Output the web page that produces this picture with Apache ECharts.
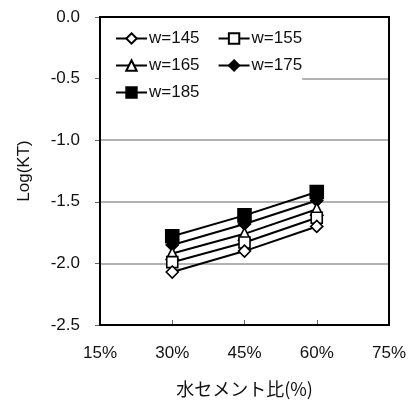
<!DOCTYPE html>
<html>
<head>
<meta charset="utf-8">
<script src="https://cdn.jsdelivr.net/npm/echarts@6/dist/echarts.min.js"></script>
<style>
  html, body { margin: 0; padding: 0; background: #fff; }
  #chart { width: 417px; height: 401px; }
</style>
</head>
<body>
<div id="chart"></div>
<script>
// Water-cement ratio (%) on the x axis
const ratios = [30, 45, 60];

// Log(KT) for each unit water content w
const w145 = [-2.07, -1.90, -1.70];
const w155 = [-1.99, -1.83, -1.63];
const w165 = [-1.92, -1.76, -1.56];
const w175 = [-1.85, -1.68, -1.49];
const w185 = [-1.78, -1.61, -1.42];

// Axis ranges
const xRange = [15, 75];
const yRange = [-2.5, 0];

const seriesNames = ['w=145', 'w=155', 'w=165', 'w=175', 'w=185'];
const seriesValues = [w145, w155, w165, w175, w185];
const symbols = ['diamond', 'rect', 'triangle', 'diamond', 'rect'];
const filled = [false, false, false, true, true];
const sizes = [12, 11, 12, 12, 13];

const font = '"Liberation Sans", Arial, sans-serif';

const chart = echarts.init(document.getElementById('chart'), null, { renderer: 'canvas' });

const series = seriesNames.map((name, i) => ({
  name: name,
  type: 'line',
  data: ratios.map((x, j) => [x, seriesValues[i][j]]),
  symbol: symbols[i],
  symbolSize: sizes[i],
  z: 2 + (seriesNames.length - i),
  lineStyle: { color: '#000', width: 2 },
  itemStyle: {
    color: filled[i] ? '#000' : '#fff',
    borderColor: '#000',
    borderWidth: 1.6
  },
  emphasis: { disabled: true },
  animation: false
}));

// Frame around the plot area, spanning the full axis ranges
series[0].markArea = {
  silent: true,
  z: 20,
  itemStyle: { color: 'rgba(0,0,0,0)', borderColor: '#000', borderWidth: 2 },
  label: { show: false },
  data: [[{ coord: [xRange[0], yRange[1]] }, { coord: [xRange[1], yRange[0]] }]]
};

// Legend laid out in two columns; only left-column entries get trailing space
const legendData = seriesNames.map((name, i) => ({
  name: name,
  textStyle: { padding: i % 2 === 0 ? [0, 8, 0, -3] : [0, 0, 0, -3] }
}));

chart.setOption({
  animation: false,
  backgroundColor: '#fff',
  grid: { left: 100, right: 28, top: 17, bottom: 76, outerBoundsMode: 'none', containLabel: false },
  legend: {
    data: legendData,
    left: 101, top: 27,
    width: 200,
    padding: [3, 0, 6, 14],
    itemWidth: 31, itemHeight: 13, itemGap: 10,
    backgroundColor: '#fff',
    textStyle: { fontFamily: font, fontSize: 17, lineHeight: 15, color: '#111' },
    selectedMode: false,
    z: 10
  },
  xAxis: {
    type: 'value',
    min: xRange[0], max: xRange[1], interval: 15,
    name: '水セメント比(%)',
    nameLocation: 'middle',
    nameGap: 55,
    nameTextStyle: { fontFamily: '"Noto Sans CJK JP", sans-serif', fontSize: 18, color: '#111' },
    axisLine: { show: true, onZero: false, lineStyle: { color: '#000', width: 2 } },
    axisTick: { show: true, inside: true, length: 5, lineStyle: { color: '#666', width: 1 } },
    axisLabel: {
      fontFamily: font, fontSize: 17, color: '#111', margin: 20,
      formatter: v => Math.round(v) + '%'
    },
    splitLine: { show: false }
  },
  yAxis: {
    type: 'value',
    min: yRange[0], max: yRange[1], interval: 0.5,
    name: 'Log(KT)',
    nameLocation: 'middle',
    nameGap: 67,
    nameRotate: 90,
    nameTextStyle: { fontFamily: font, fontSize: 17, color: '#111' },
    axisLine: { show: true, onZero: false, lineStyle: { color: '#000', width: 2 } },
    axisTick: { show: true, inside: false, length: 5, lineStyle: { color: '#666', width: 1 } },
    axisLabel: {
      fontFamily: font, fontSize: 17, color: '#111', margin: 20,
      formatter: v => v.toFixed(1)
    },
    splitLine: { show: true, lineStyle: { color: '#999', width: 1.5 } }
  },
  series: series
});
</script>
</body>
</html>
